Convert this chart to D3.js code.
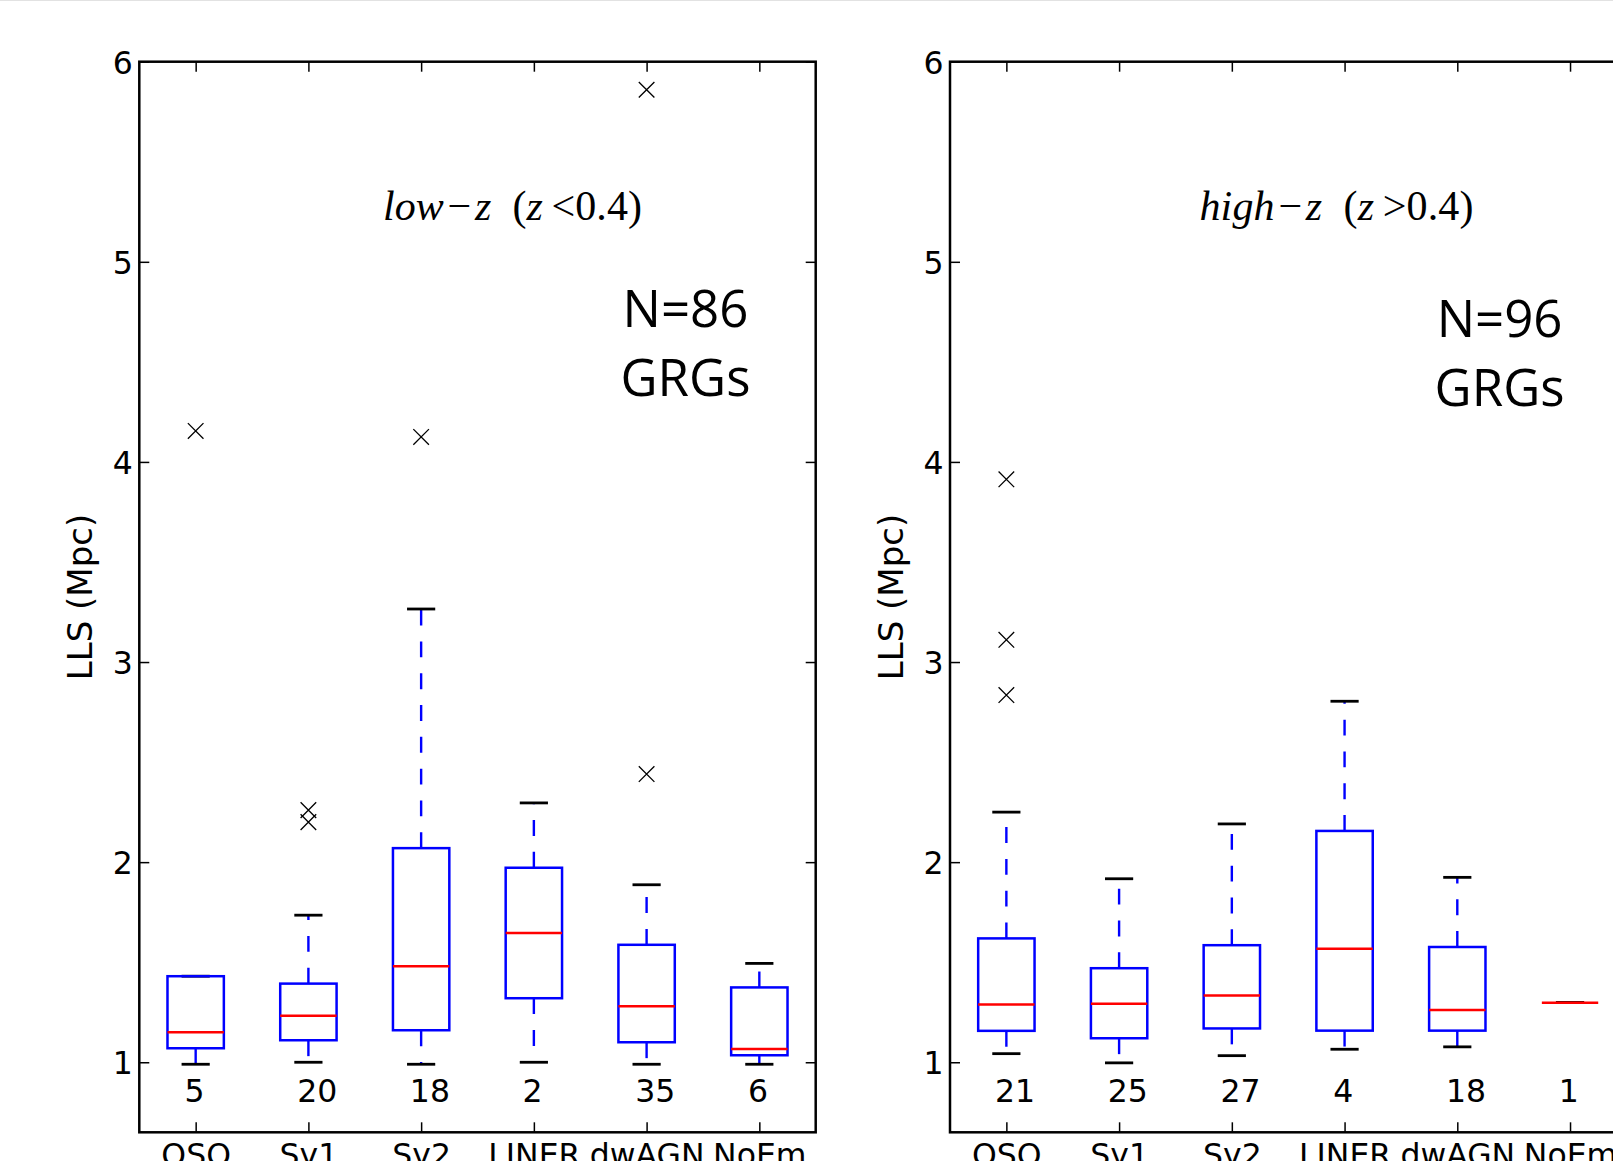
<!DOCTYPE html>
<html>
<head>
<meta charset="utf-8">
<script src="https://cdn.jsdelivr.net/npm/d3@7"></script>
<style>
  html, body { margin: 0; padding: 0; background: #fff; overflow: hidden; }
  svg { display: block; }
</style>
</head>
<body>
<script>
// ---- Data: LLS (Mpc) distribution per optical class, two redshift bins ----
const categories = ["QSO", "Sy1", "Sy2", "LINER", "dwAGN", "NoEm"];
const yTickValues = [1, 2, 3, 4, 5, 6];

// low-z (z < 0.4)
const lowWhiskerLo = [0.99, 1.00, 0.99, 1.00, 0.99, 0.99];
const lowQ1        = [1.07, 1.11, 1.16, 1.32, 1.10, 1.035];
const lowMedian    = [1.15, 1.233, 1.48, 1.646, 1.28, 1.066];
const lowQ3        = [1.43, 1.393, 2.07, 1.972, 1.587, 1.374];
const lowWhiskerHi = [1.43, 1.735, 3.265, 2.296, 1.887, 1.494];
const lowOutliers  = [[4.155], [2.26, 2.20], [4.125], [], [2.44, 5.86], []];
const lowCounts    = [5, 20, 18, 2, 35, 6];

// high-z (z > 0.4)
const highWhiskerLo = [1.043, 0.997, 1.033, 1.065, 1.077, 1.298];
const highQ1        = [1.157, 1.12, 1.169, 1.158, 1.158, 1.298];
const highMedian    = [1.289, 1.293, 1.333, 1.567, 1.261, 1.298];
const highQ3        = [1.619, 1.47, 1.585, 2.156, 1.576, 1.298];
const highWhiskerHi = [2.25, 1.917, 2.191, 2.804, 1.924, 1.298];
const highOutliers  = [[3.913, 3.111, 2.835], [], [], [], [], []];
const highCounts    = [21, 25, 27, 4, 18, 1];

// Panel annotations
const panelTitles = [["low", "z", "<"], ["high", "z", ">"]];
const sampleLabels = ["N=86", "N=96"];

// ---- Layout ----
const W = 1613, H = 1161;
const plotTop = 61.7, plotBottom = 1132.3, plotWidth = 676.4;
const panelLefts = [139.3, 950];
const yDomain = [0.65, 6];
const boxWidth = 0.5;          // in category units
const capWidth = 0.25;
const countLabelY = 0.8;
const tickFont = "'DejaVu Sans', sans-serif";
const tickFontSize = 31.5;

const svg = d3.select("body").append("svg")
  .attr("width", W).attr("height", H)
  .attr("viewBox", `0 0 ${W} ${H}`);

svg.append("rect").attr("width", W).attr("height", H).attr("fill", "#fff");
svg.append("line").attr("x1", 0).attr("x2", W).attr("y1", 0.5).attr("y2", 0.5)
  .attr("stroke", "#e2e2e2").attr("stroke-width", 1);

const panels = [
  { lo: lowWhiskerLo, q1: lowQ1, med: lowMedian, q3: lowQ3, hi: lowWhiskerHi,
    out: lowOutliers, counts: lowCounts, title: panelTitles[0], label: sampleLabels[0],
    titleAt: [2.662, 5.21], titleLen: 259, labelAt: [5.345, 4.675, 4.33] },
  { lo: highWhiskerLo, q1: highQ1, med: highMedian, q3: highQ3, hi: highWhiskerHi,
    out: highOutliers, counts: highCounts, title: panelTitles[1], label: sampleLabels[1],
    titleAt: [2.713, 5.21], titleLen: 274, labelAt: [5.375, 4.623, 4.28] }
];

panels.forEach((p, pi) => {
  const x0 = panelLefts[pi];
  const x = d3.scaleLinear().domain([0.5, 6.5]).range([x0, x0 + plotWidth]);
  const y = d3.scaleLinear().domain(yDomain).range([plotBottom, plotTop]);
  const g = svg.append("g");

  const rows = categories.map((c, i) => ({
    pos: i + 1, lo: p.lo[i], q1: p.q1[i], med: p.med[i], q3: p.q3[i], hi: p.hi[i],
    out: p.out[i], n: p.counts[i]
  }));

  // whiskers (dashed, start at the box edge)
  const wg = g.append("g").attr("stroke", "#0000ff").attr("stroke-width", 2.4)
    .attr("stroke-dasharray", "15.9 15.9").attr("fill", "none");
  rows.forEach(r => {
    if (r.hi > r.q3) wg.append("line").attr("x1", x(r.pos)).attr("x2", x(r.pos))
      .attr("y1", y(r.q3)).attr("y2", y(r.hi));
    if (r.lo < r.q1) wg.append("line").attr("x1", x(r.pos)).attr("x2", x(r.pos))
      .attr("y1", y(r.q1)).attr("y2", y(r.lo));
  });

  // caps
  const cg = g.append("g").attr("stroke", "#000").attr("stroke-width", 2.8);
  rows.forEach(r => {
    [r.lo, r.hi].forEach(v => {
      cg.append("line")
        .attr("x1", x(r.pos - capWidth / 2)).attr("x2", x(r.pos + capWidth / 2))
        .attr("y1", y(v)).attr("y2", y(v));
    });
  });

  // boxes
  g.append("g").selectAll("rect").data(rows).join("rect")
    .attr("x", r => x(r.pos - boxWidth / 2))
    .attr("width", r => x(r.pos + boxWidth / 2) - x(r.pos - boxWidth / 2))
    .attr("y", r => y(r.q3))
    .attr("height", r => y(r.q1) - y(r.q3))
    .attr("fill", "none").attr("stroke", "#0000ff").attr("stroke-width", 2.5);

  // medians
  g.append("g").selectAll("line").data(rows).join("line")
    .attr("x1", r => x(r.pos - boxWidth / 2)).attr("x2", r => x(r.pos + boxWidth / 2))
    .attr("y1", r => y(r.med)).attr("y2", r => y(r.med))
    .attr("stroke", "#ff0000").attr("stroke-width", 2.5);

  // outliers as "x" markers
  const fl = rows.flatMap(r => r.out.map(v => ({ pos: r.pos, v })));
  const m = 7.8;
  g.append("g").selectAll("path").data(fl).join("path")
    .attr("d", d => {
      const cx = x(d.pos), cy = y(d.v);
      return `M${cx - m},${cy - m}L${cx + m},${cy + m}M${cx - m},${cy + m}L${cx + m},${cy - m}`;
    })
    .attr("stroke", "#000").attr("stroke-width", 1.3).attr("fill", "none");

  // group sizes
  g.append("g").selectAll("text").data(rows).join("text")
    .attr("x", r => x(r.pos - 0.1)).attr("y", y(countLabelY))
    .attr("font-family", tickFont).attr("font-size", tickFontSize).attr("fill", "#000")
    .text(r => r.n);

  // axes (ticks point inward)
  const tickVals = d3.range(1, categories.length + 1);
  const styleAxis = sel => {
    sel.select(".domain").remove();
    sel.selectAll(".tick line").attr("stroke", "#000").attr("stroke-width", 1.5);
    sel.selectAll("text").attr("font-family", tickFont).attr("font-size", tickFontSize)
      .attr("fill", "#000");
  };
  g.append("g").attr("transform", `translate(${x0},0)`)
    .call(d3.axisLeft(y).tickValues(yTickValues).tickFormat(d3.format("d"))
      .tickSize(-10).tickPadding(6.5))
    .call(styleAxis)
    .call(s => s.selectAll("text").attr("dy", null).attr("y", 11.5));
  g.append("g").attr("transform", `translate(${x0 + plotWidth},0)`)
    .call(d3.axisRight(y).tickValues(yTickValues).tickSize(-10).tickFormat(""))
    .call(styleAxis);
  g.append("g").attr("transform", `translate(0,${plotTop})`)
    .call(d3.axisTop(x).tickValues(tickVals).tickSize(-10).tickFormat(""))
    .call(styleAxis);
  g.append("g").attr("transform", `translate(0,${plotBottom})`)
    .call(d3.axisBottom(x).tickValues(tickVals).tickFormat(i => categories[i - 1])
      .tickSize(-10))
    .call(styleAxis)
    .call(s => s.selectAll("text").attr("dy", null).attr("y", 33.5));

  // frame
  g.append("rect").attr("x", x0).attr("y", plotTop)
    .attr("width", plotWidth).attr("height", plotBottom - plotTop)
    .attr("fill", "none").attr("stroke", "#000").attr("stroke-width", 2.5);

  // y label
  g.append("text")
    .attr("transform", `translate(${x0 - 47.5},${(plotTop + plotBottom) / 2}) rotate(-90)`)
    .attr("text-anchor", "middle")
    .attr("font-family", tickFont).attr("font-size", 34).attr("fill", "#000")
    .text("LLS (Mpc)");

  // redshift-bin title (math style)
  const t = g.append("text")
    .attr("x", x(p.titleAt[0])).attr("y", y(p.titleAt[1]))
    .attr("font-family", "'Liberation Serif', 'DejaVu Serif', serif")
    .attr("font-size", 42).attr("fill", "#000")
    .attr("textLength", p.titleLen).attr("lengthAdjust", "spacing");
  t.append("tspan").attr("font-style", "italic").text(p.title[0]);
  t.append("tspan").text("\u200a\u2212\u200a");
  t.append("tspan").attr("font-style", "italic").text(p.title[1]);
  t.append("tspan").text("\u2002(");
  t.append("tspan").attr("font-style", "italic").text("z");
  t.append("tspan").text("\u2009" + p.title[2] + "0.4)");

  // sample size label
  const lab = g.append("g").attr("font-family", "'Open Sans', sans-serif")
    .attr("font-size", 51).attr("fill", "#000").attr("text-anchor", "middle");
  lab.append("text").attr("x", x(p.labelAt[0])).attr("y", y(p.labelAt[1])).text(p.label);
  lab.append("text").attr("x", x(p.labelAt[0])).attr("y", y(p.labelAt[2])).text("GRGs");
});
</script>
</body>
</html>
